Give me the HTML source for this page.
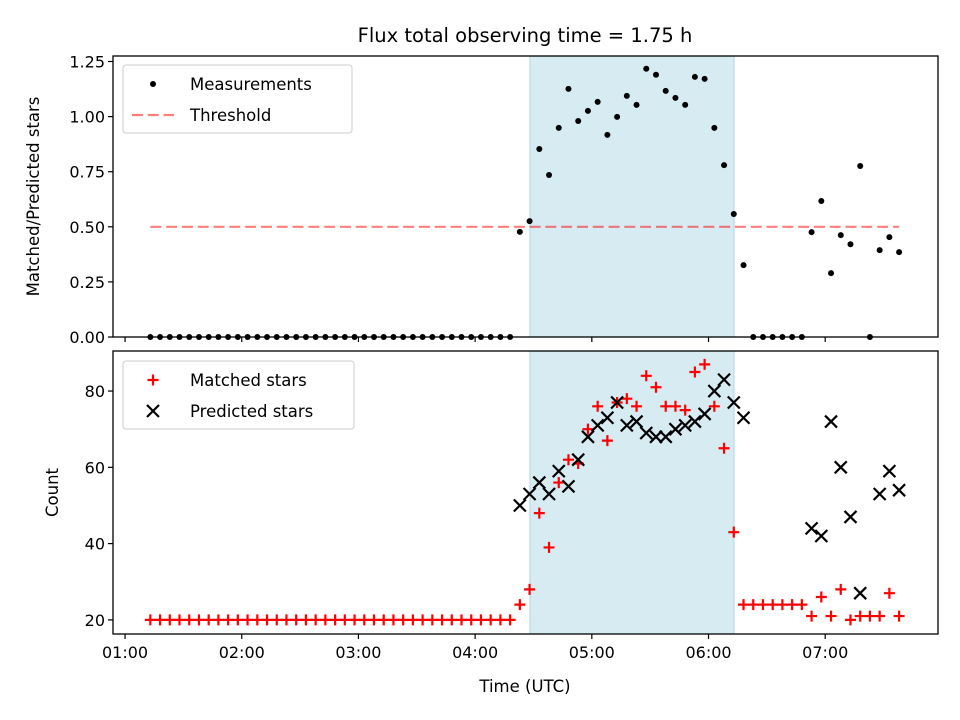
<!DOCTYPE html>
<html><head><meta charset="utf-8"><style>
body{margin:0;background:#fff;}
svg{display:block;font-family:"DejaVu Sans","Liberation Sans",sans-serif;}
</style></head><body>
<svg id="chart" width="960" height="720" viewBox="0 0 960 720" xmlns="http://www.w3.org/2000/svg"></svg>
<script>
// minutes after 01:00 UTC
const times = [13,18,23,28,33,38,43,48,53,58,63,68,73,78,83,88,93,98,103,108,113,118,123,128,133,138,143,148,153,158,163,168,173,178,183,188,193,198,
203,208,213,218,223,228,233,238,243,248,253,258,263,268,273,278,283,288,293,298,303,308,313,318,
323,328,333,338,343,348,
353,358,363,368,373,378,383,388,393,398];
const matched = [20,20,20,20,20,20,20,20,20,20,20,20,20,20,20,20,20,20,20,20,20,20,20,20,20,20,20,20,20,20,20,20,20,20,20,20,20,20,
24,28,48,39,56,62,61,70,76,67,77,78,76,84,81,76,76,75,85,87,76,65,43,24,
24,24,24,24,24,24,
21,26,21,28,20,21,21,21,27,21];
const predicted = [null,null,null,null,null,null,null,null,null,null,null,null,null,null,null,null,null,null,null,null,null,null,null,null,null,null,null,null,null,null,null,null,null,null,null,null,null,null,
50,53,56,53,59,55,62,68,71,73,77,71,72,69,68,68,70,71,72,74,80,83,77,73,
null,null,null,null,null,null,
44,42,72,60,47,27,null,53,59,54];
const ratio = [0,0,0,0,0,0,0,0,0,0,0,0,0,0,0,0,0,0,0,0,0,0,0,0,0,0,0,0,0,0,0,0,0,0,0,0,0,0,
0.477,0.526,0.853,0.735,0.949,1.126,0.98,1.026,1.067,0.917,0.999,1.094,1.053,1.217,1.19,1.117,1.085,1.053,1.18,1.171,0.949,0.78,0.558,0.326,
0,0,0,0,0,0,
0.476,0.617,0.29,0.462,0.421,0.776,0,0.394,0.453,0.385];
const threshold = 0.5;
const spanStart = 208.2, spanEnd = 313.1;
const xTicks = [0,60,120,180,240,300,360];
const xTickLabels = ["01:00","02:00","03:00","04:00","05:00","06:00","07:00"];
const topTicks = [0,0.25,0.5,0.75,1.0,1.25];
const topTickLabels = ["0.00","0.25","0.50","0.75","1.00","1.25"];
const botTicks = [20,40,60,80];
const botTickLabels = ["20","40","60","80"];

const svg = document.getElementById('chart');
const NS = 'http://www.w3.org/2000/svg';
function mk(tag, attrs, parent){const e=document.createElementNS(NS,tag);for(const k in attrs)e.setAttribute(k,attrs[k]);(parent||svg).appendChild(e);return e;}

const L=113,R=938;
const xMin=-6.2,xMax=418;
const X=t=>L+(t-xMin)/(xMax-xMin)*(R-L);
const T={top:56,bot:337,min:0,max:1.275};
const B={top:351,bot:634,min:16.3,max:90.5};
const YT=v=>T.bot-(v-T.min)/(T.max-T.min)*(T.bot-T.top);
const YB=v=>B.bot-(v-B.min)/(B.max-B.min)*(B.bot-B.top);
const DASH='11,4.8';

let t=mk('text',{x:525,y:42,'text-anchor':'middle','font-size':'19.5'});t.textContent='Flux total observing time = 1.75 h';



function panel(P,Y,ticks,labels,name){
  const g=mk('g',{});
  
  
  const s=mk('rect',{x:X(spanStart),y:P.top,width:X(spanEnd)-X(spanStart),height:P.bot-P.top,fill:'#add8e6','fill-opacity':0.5,stroke:'#add8e6','stroke-width':1},g);
  
  
  ticks.forEach((v,i)=>{
    mk('line',{x1:L-5,x2:L,y1:Y(v),y2:Y(v),stroke:'#000','stroke-width':1.2},g);
    const tx=mk('text',{x:L-8,y:Y(v)+6,'text-anchor':'end','font-size':'16'},g);tx.textContent=labels[i];
    
    
  });
  xTicks.forEach((v,i)=>{mk('line',{x1:X(v),x2:X(v),y1:P.bot,y2:P.bot+5,stroke:'#000','stroke-width':1.2},g);});
  return g;
}
const gt=panel(T,YT,topTicks,topTickLabels,'top-panel');
const gb=panel(B,YB,botTicks,botTickLabels,'bottom-panel');

const th=mk('line',{x1:X(times[0]),x2:X(times[times.length-1]),y1:YT(threshold),y2:YT(threshold),stroke:'#ff0000','stroke-opacity':0.5,'stroke-width':2.2,'stroke-dasharray':DASH},gt);



times.forEach((tm,i)=>{
  const c=mk('circle',{cx:X(tm),cy:YT(ratio[i]),r:3,fill:'#000'},gt);
  
  
});
times.forEach((tm,i)=>{
  const x=X(tm),y=YB(matched[i]);
  const p=mk('path',{d:`M${x-5.5},${y}H${x+5.5}M${x},${y-5.5}V${y+5.5}`,stroke:'#ff0000','stroke-width':2.2,fill:'none'},gb);
  
  
});
times.forEach((tm,i)=>{
  if(predicted[i]==null)return;
  const x=X(tm),y=YB(predicted[i]);
  const p=mk('path',{d:`M${x-6},${y-6}L${x+6},${y+6}M${x-6},${y+6}L${x+6},${y-6}`,stroke:'#000','stroke-width':2.2,fill:'none'},gb);
  
  
});

[T,B].forEach((P,i)=>{
  const f=mk('rect',{x:L,y:P.top,width:R-L,height:P.bot-P.top,fill:'none',stroke:'#000','stroke-width':1.3});
  
  
});
xTickLabels.forEach((lab,i)=>{
  const tx=mk('text',{x:X(xTicks[i]),y:B.bot+24,'text-anchor':'middle','font-size':'16'});tx.textContent=lab;
  
  
});
let xl=mk('text',{x:525,y:692,'text-anchor':'middle','font-size':'16.5'});xl.textContent='Time (UTC)';


let yl1=mk('text',{x:0,y:0,'text-anchor':'middle','font-size':'16.5',transform:`translate(39,${(T.top+T.bot)/2}) rotate(-90)`});yl1.textContent='Matched/Predicted stars';


let yl2=mk('text',{x:0,y:0,'text-anchor':'middle','font-size':'16.5',transform:`translate(58,${(B.top+B.bot)/2}) rotate(-90)`});yl2.textContent='Count';



function legend(y0,h,w,items,name){
  const g=mk('g',{});
  
  
  mk('rect',{x:123,y:y0,width:w,height:h,rx:3,fill:'#fff','fill-opacity':0.8,stroke:'#ccc','stroke-width':1},g);
  items.forEach((it,i)=>{
    const cy=y0+19+i*31;
    if(it.k==='dot')mk('circle',{cx:153,cy:cy,r:3,fill:'#000'},g);
    if(it.k==='dash')mk('line',{x1:132,x2:174,y1:cy,y2:cy,stroke:'#ff0000','stroke-opacity':0.5,'stroke-width':2.2,'stroke-dasharray':DASH},g);
    if(it.k==='plus')mk('path',{d:`M147.5,${cy}H158.5M153,${cy-5.5}V${cy+5.5}`,stroke:'#ff0000','stroke-width':2.2},g);
    if(it.k==='x')mk('path',{d:`M147,${cy-6}L159,${cy+6}M147,${cy+6}L159,${cy-6}`,stroke:'#000','stroke-width':2.2},g);
    const tx=mk('text',{x:190,y:cy+6,'font-size':'16.5'},g);tx.textContent=it.t;
    
    
  });
}
legend(65,68,229,[{k:'dot',t:'Measurements'},{k:'dash',t:'Threshold'}],'top-legend');
legend(361,68,231,[{k:'plus',t:'Matched stars'},{k:'x',t:'Predicted stars'}],'bottom-legend');
</script>
</body></html>
